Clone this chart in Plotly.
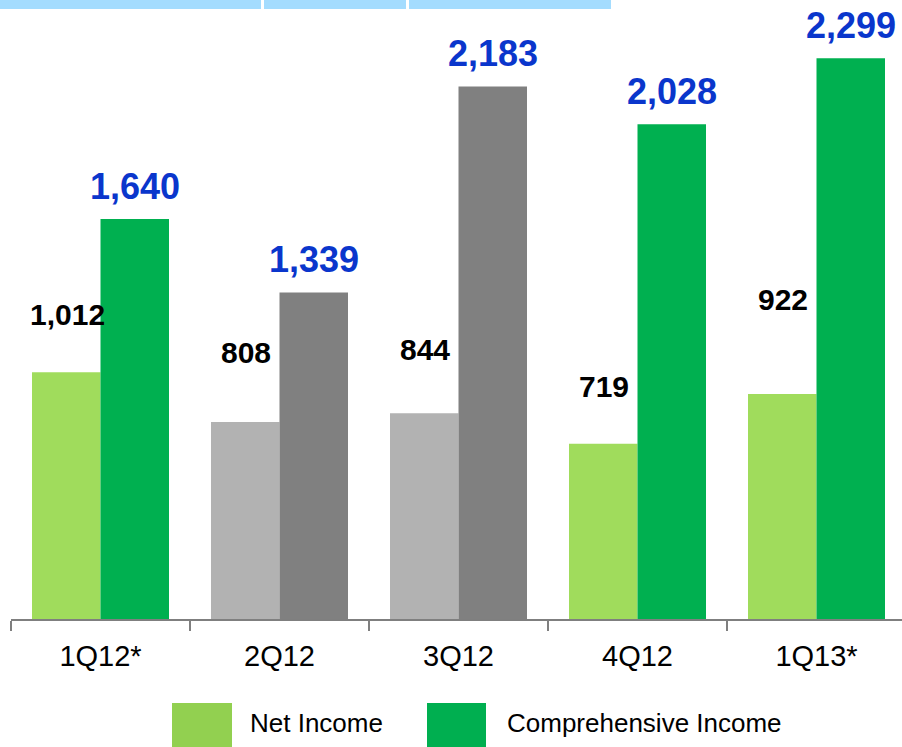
import plotly.graph_objects as go

# ---- data ----
quarters = ["1Q12*", "2Q12", "3Q12", "4Q12", "1Q13*"]
net_income = [1012, 808, 844, 719, 922]
comprehensive_income = [1640, 1339, 2183, 2028, 2299]
net_labels = ["1,012", "808", "844", "719", "922"]
comp_labels = ["1,640", "1,339", "2,183", "2,028", "2,299"]

# ---- styles ----
net_colors = ["#A0DC5C", "#B2B2B2", "#B2B2B2", "#A0DC5C", "#A0DC5C"]
comp_colors = ["#00B050", "#808080", "#808080", "#00B050", "#00B050"]
net_label_lift = [58, 69, 64, 57, 95]   # px above bar top (label centre)
comp_label_lift = 33
FONT = "Arial, 'Liberation Sans', sans-serif"

W, H = 902, 747
ML, MR, MT, MB = 11, 0, 0, 128
PW, PH = W - ML - MR, H - MT - MB
PX_PER_UNIT = 0.2439
CAT_W = 179.0
BAR_W = 68.5 / CAT_W

xs = list(range(len(quarters)))

fig = go.Figure()
fig.add_trace(go.Bar(x=xs, y=net_income, width=BAR_W, offset=-BAR_W,
                     marker=dict(color=net_colors, line=dict(width=0)),
                     name="Net Income", showlegend=False, hoverinfo="y"))
fig.add_trace(go.Bar(x=xs, y=comprehensive_income, width=BAR_W, offset=0,
                     marker=dict(color=comp_colors, line=dict(width=0)),
                     name="Comprehensive Income", showlegend=False, hoverinfo="y"))

annotations = []
for i, (v, t, lift) in enumerate(zip(net_income, net_labels, net_label_lift)):
    annotations.append(dict(x=i - BAR_W / 2, y=v, xref="x", yref="y", text=t,
                            showarrow=False, yshift=lift, xshift=1, yanchor="middle",
                            font=dict(family=FONT, size=30, color="#000000", weight="bold")))
for i, (v, t) in enumerate(zip(comprehensive_income, comp_labels)):
    annotations.append(dict(x=i + BAR_W / 2, y=v, xref="x", yref="y", text=t,
                            showarrow=False, yshift=comp_label_lift, yanchor="middle",
                            font=dict(family=FONT, size=36, color="#0A36CC", weight="bold")))


def px(xp):
    return (xp - ML) / PW


def py(yp):
    return (H - MB - yp) / PH


shapes = []
# top light-blue bands
for x0, x1 in [(0, 261), (264, 406), (409, 611)]:
    shapes.append(dict(type="rect", xref="paper", yref="paper",
                       x0=px(x0), x1=px(x1), y0=py(0), y1=py(9),
                       fillcolor="#A4DCFE", line=dict(width=0)))
# legend swatches
shapes.append(dict(type="rect", xref="paper", yref="paper", x0=px(172), x1=px(232),
                   y0=py(703), y1=py(747), fillcolor="#92D050", line=dict(width=0)))
shapes.append(dict(type="rect", xref="paper", yref="paper", x0=px(427), x1=px(486),
                   y0=py(703), y1=py(747), fillcolor="#00AF50", line=dict(width=0)))
annotations.append(dict(x=px(248), y=py(723), xref="paper", yref="paper", text="Net Income",
                        showarrow=False, xanchor="left", yanchor="middle",
                        font=dict(family=FONT, size=26, color="#000000")))
annotations.append(dict(x=px(505), y=py(723), xref="paper", yref="paper",
                        text="Comprehensive Income", showarrow=False, xanchor="left",
                        yanchor="middle", font=dict(family=FONT, size=26, color="#000000")))

fig.update_layout(
    width=W, height=H,
    margin=dict(l=ML, r=MR, t=MT, b=MB, pad=0),
    paper_bgcolor="white", plot_bgcolor="white",
    barmode="overlay",
    showlegend=False,
    annotations=annotations,
    shapes=shapes,
    xaxis=dict(range=[-0.5, -0.5 + PW / CAT_W], tickmode="array", tickvals=xs,
               ticktext=quarters, showline=True, linecolor="#7F7F7F", linewidth=1.5,
               ticks="outside", ticklen=10, tickcolor="rgba(0,0,0,0)",
               tickfont=dict(family=FONT, size=29, color="#000000"),
               showgrid=False, zeroline=False, fixedrange=True,
               minor=dict(tickmode="array", tickvals=[i - 0.5 for i in range(len(quarters) + 1)],
                          ticks="outside", ticklen=10, tickwidth=1.5, tickcolor="#7F7F7F",
                          showgrid=False)),
    yaxis=dict(range=[0, PH / PX_PER_UNIT], visible=False, showgrid=False,
               zeroline=False, fixedrange=True),
)

fig.write_html(
    "out.html",
    config={"displayModeBar": False},
    post_script="document.body.style.margin='0';document.body.style.overflow='hidden';",
)
